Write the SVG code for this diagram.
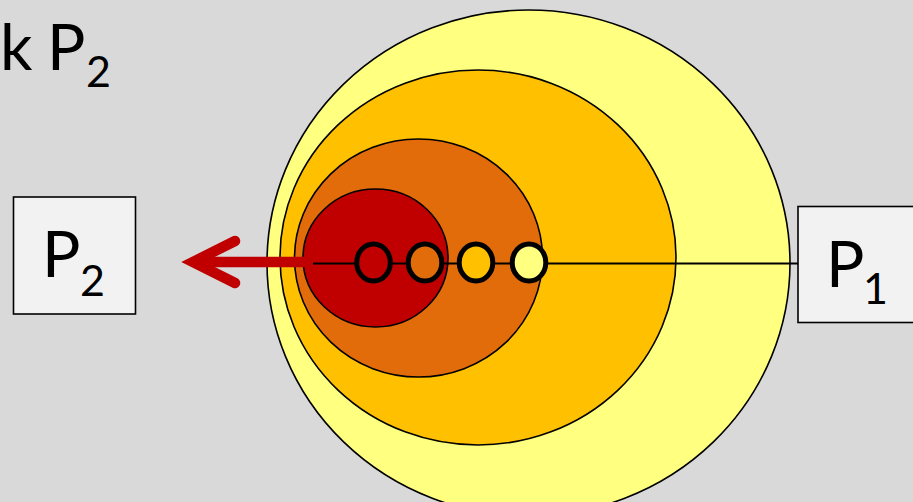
<svg xmlns="http://www.w3.org/2000/svg" width="913" height="502" viewBox="0 0 913 502">
  <style>
    .ring { stroke: #000; stroke-width: 1.6; }
    .dot { stroke: #000; stroke-width: 5; }
    .box { fill: #F2F2F2; stroke: #000; stroke-width: 1.6; }
    .t { font-family: Lato, "Open Sans", sans-serif; fill: #000; }
    .big { font-size: 64px; }
    .sub { font-size: 43px; }
  </style>
  <rect x="0" y="0" width="913" height="502" fill="#D9D9D9"/>
  <g id="title">
    <text class="t big" x="0" y="70">k</text>
    <text class="t big" x="47" y="70">P</text>
    <text class="t sub" x="86" y="87">2</text>
  </g>
  <g id="shells">
    <ellipse id="shell-outer" class="ring" cx="528.5" cy="263" rx="261.5" ry="253" fill="#FFFF80"/>
    <ellipse id="shell-3" class="ring" cx="478" cy="257.5" rx="198" ry="187.5" fill="#FFC000"/>
    <ellipse id="shell-2" class="ring" cx="418.5" cy="258" rx="124" ry="119" fill="#E36C0A"/>
    <ellipse id="shell-1" class="ring" cx="375.5" cy="258" rx="72.5" ry="69" fill="#C00000"/>
  </g>
  <g id="connectors">
    <line x1="313" y1="263.5" x2="798" y2="263.5" stroke="#000" stroke-width="2"/>
    <line x1="196" y1="262" x2="306" y2="262" stroke="#C00000" stroke-width="10.5"/>
    <polyline points="235,241 193,262 235,283" fill="none" stroke="#C00000" stroke-width="10.5" stroke-linecap="round" stroke-linejoin="miter"/>
  </g>
  <g id="dot-1"><ellipse class="dot" cx="373.5" cy="262.5" rx="16.8" ry="18.5" fill="#C00000"/></g>
  <g id="dot-2"><ellipse class="dot" cx="425" cy="262.5" rx="16.8" ry="18.5" fill="#E36C0A"/></g>
  <g id="dot-3"><ellipse class="dot" cx="476" cy="262.5" rx="16.8" ry="18.5" fill="#FFC000"/></g>
  <g id="dot-4"><ellipse class="dot" cx="529" cy="262.5" rx="16.8" ry="18.5" fill="#FFFF80"/></g>
  <g id="P2">
    <rect class="box" x="13.5" y="197" width="122" height="117"/>
    <text class="t big" x="42" y="277">P</text>
    <text class="t sub" x="80" y="296">2</text>
  </g>
  <g id="P1">
    <rect class="box" x="798" y="206.5" width="130" height="116"/>
    <text class="t big" x="826" y="287">P</text>
    <text class="t sub" x="863" y="304">1</text>
  </g>
</svg>
